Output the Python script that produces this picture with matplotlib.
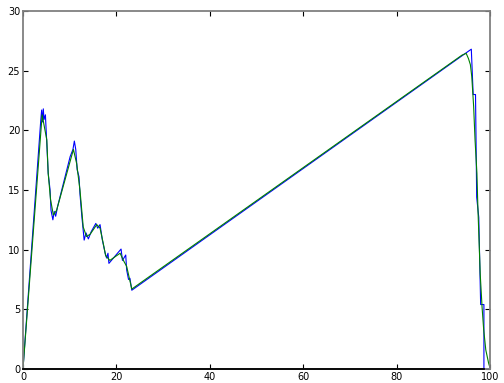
import matplotlib.pyplot as plt

# raw signal (blue)
raw_x = [0, 3.8, 4.0, 4.2, 4.35, 4.5, 4.8, 5.1, 5.4, 5.8, 6.0, 6.4, 6.7, 7.0, 7.4,
         10.1, 10.4, 10.7, 11.0, 11.3, 11.6, 12.0, 12.2, 12.6, 13.1, 13.5, 14.0,
         14.6, 15.6, 16.0, 16.5, 17.0, 17.6, 17.9, 18.2, 18.4, 21.0, 21.3, 22.0,
         22.2, 22.6, 22.9, 23.3, 96.0, 96.4, 96.9, 97.15, 97.6, 98.0, 98.7, 98.7, 100]
raw_y = [0, 20.8, 21.7, 20.7, 21.8, 20.9, 21.3, 18.9, 16.4, 15.0, 13.3, 12.5, 13.2, 12.8, 13.6,
         17.8, 18.1, 18.4, 19.1, 18.4, 16.7, 16.1, 14.7, 12.8, 10.8, 11.4, 10.9,
         11.5, 12.2, 11.8, 12.1, 10.8, 9.7, 9.3, 9.7, 8.85, 10.05, 9.1, 9.55,
         8.3, 7.5, 7.6, 6.6, 26.8, 23.0, 23.0, 14.4, 12.7, 5.4, 5.4, 0, 0]

# smoothed signal (green)
smooth_x = [0, 4.1, 5.1, 5.4, 5.9, 6.5, 7.2, 10.8, 11.5, 12.2, 12.9, 13.6, 14.4,
            15.8, 16.5, 17.2, 17.7, 18.6, 20.8, 21.5, 22.2, 23.3, 94.0, 94.9, 95.4,
            95.8, 96.1, 96.5, 96.8, 97.2, 97.4, 97.7, 97.9, 98.3, 98.65, 99.1, 99.7, 100]
smooth_y = [0, 21.3, 19.2, 16.4, 14.2, 12.9, 13.3, 18.4, 17.2, 15.0, 11.9, 11.1, 11.3,
            12.1, 11.8, 10.5, 9.5, 9.1, 9.7, 9.1, 8.6, 6.7, 26.3, 26.45, 26.0,
            25.5, 24.5, 22.0, 19.2, 16.4, 13.6, 10.3, 8.0, 5.2, 3.3, 1.6, 0.5, 0.1]

# baseline (black)
base_x = [0, 98.7]
base_y = [0, 0]

fig = plt.figure(figsize=(5.04, 3.83), dpi=100)
ax = fig.add_axes([0.0456, 0.0366, 0.9266, 0.9347])

ax.plot(raw_x, raw_y, color='#0000ff', lw=0.8)
ax.plot(smooth_x, smooth_y, color='#008000', lw=0.8)
ax.plot(base_x, base_y, color='k', lw=1.3, clip_on=False, zorder=3)

ax.set_xlim(0, 100)
ax.set_ylim(0, 30)
ax.set_xticks([0, 20, 40, 60, 80, 100])
ax.set_yticks([0, 5, 10, 15, 20, 25, 30])

for s in ax.spines.values():
    s.set_color('#808080')
    s.set_linewidth(1.3)

ax.tick_params(direction='in', length=3.5, width=0.8, pad=2, labelsize=7,
               top=True, right=True, colors='k')

fig.savefig('out.png', dpi=100)
